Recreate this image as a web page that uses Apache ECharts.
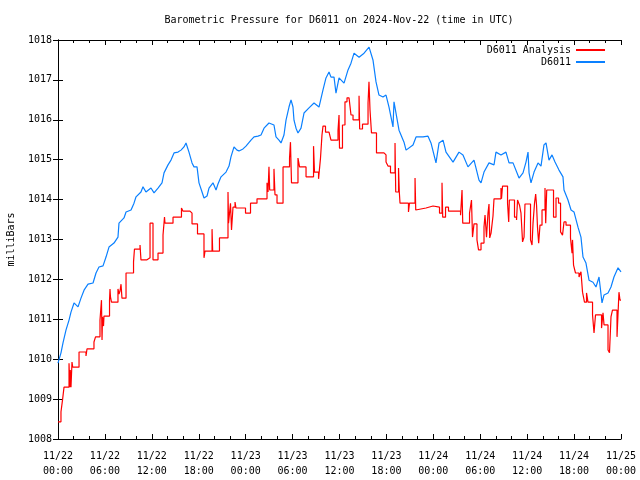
<!DOCTYPE html>
<html>
<head>
<meta charset="utf-8">
<script src="https://cdn.jsdelivr.net/npm/echarts@6/dist/echarts.min.js"></script>
<style>html,body{margin:0;padding:0;background:#fff}#c{width:640px;height:480px}</style>
</head>
<body>
<div id="c"></div>
<script>
var xTickLabels = ['11/22\n00:00','11/22\n06:00','11/22\n12:00','11/22\n18:00','11/23\n00:00','11/23\n06:00','11/23\n12:00','11/23\n18:00','11/24\n00:00','11/24\n06:00','11/24\n12:00','11/24\n18:00','11/25\n00:00'];

// hours since 11/22 00:00 UTC
var blueHours = [0.00,0.38,0.64,1.02,1.41,1.66,2.05,2.56,2.94,3.33,3.84,4.48,4.86,5.24,5.76,6.14,6.52,7.16,7.67,7.80,8.44,8.70,9.34,9.72,9.98,10.61,10.87,11.25,11.89,12.28,12.79,13.30,13.56,14.07,14.45,14.84,15.35,15.73,16.11,16.37,16.75,17.14,17.39,17.78,18.03,18.42,18.67,19.06,19.31,19.82,20.21,20.46,20.85,21.49,21.87,22.12,22.51,22.89,23.15,23.66,24.04,24.68,25.07,25.58,25.96,26.35,26.98,27.62,27.88,28.26,28.52,28.90,29.16,29.54,29.80,30.05,30.18,30.44,30.69,31.08,31.46,32.10,32.74,33.38,33.89,34.27,34.66,34.91,35.30,35.55,35.94,36.58,37.09,37.47,37.86,38.50,39.14,39.78,40.28,40.67,41.05,41.56,41.95,42.33,42.84,42.97,43.61,44.25,44.51,45.40,45.79,46.68,47.32,47.70,48.34,48.73,49.24,49.62,50.52,51.28,51.79,52.43,53.20,53.46,53.84,54.10,54.48,55.12,55.76,56.01,56.65,57.29,57.68,58.19,58.96,59.47,59.85,60.11,60.24,60.49,60.88,61.39,61.77,62.15,62.41,62.79,63.18,63.56,64.07,64.58,64.71,65.22,65.61,65.99,66.50,66.88,67.14,67.52,67.91,68.42,68.80,69.19,69.57,69.83,70.34,70.72,71.10,71.62,72.00];
var blueValues = [1009.90,1010.16,1010.41,1010.73,1010.98,1011.18,1011.41,1011.31,1011.53,1011.73,1011.88,1011.91,1012.16,1012.31,1012.34,1012.56,1012.81,1012.91,1013.06,1013.41,1013.54,1013.69,1013.74,1013.91,1014.07,1014.19,1014.32,1014.19,1014.29,1014.17,1014.29,1014.42,1014.67,1014.87,1014.99,1015.17,1015.19,1015.24,1015.32,1015.42,1015.19,1014.92,1014.82,1014.82,1014.42,1014.19,1014.04,1014.09,1014.29,1014.42,1014.24,1014.39,1014.57,1014.69,1014.84,1015.07,1015.32,1015.24,1015.22,1015.27,1015.34,1015.49,1015.57,1015.59,1015.62,1015.79,1015.92,1015.87,1015.57,1015.49,1015.42,1015.62,1015.99,1016.32,1016.50,1016.32,1015.99,1015.79,1015.67,1015.79,1016.17,1016.30,1016.42,1016.32,1016.75,1017.05,1017.20,1017.07,1017.07,1016.67,1017.05,1016.92,1017.25,1017.42,1017.67,1017.57,1017.67,1017.82,1017.50,1016.95,1016.62,1016.57,1016.62,1016.32,1015.82,1016.45,1015.74,1015.44,1015.24,1015.37,1015.57,1015.57,1015.59,1015.42,1014.92,1015.42,1015.49,1015.19,1014.94,1015.19,1015.12,1014.82,1014.99,1014.79,1014.49,1014.42,1014.69,1014.92,1014.87,1015.19,1015.12,1015.19,1014.92,1014.92,1014.54,1014.67,1014.94,1015.19,1014.67,1014.42,1014.69,1014.92,1014.84,1015.37,1015.42,1014.99,1015.12,1014.94,1014.74,1014.57,1014.24,1013.99,1013.74,1013.69,1013.31,1013.06,1012.56,1012.41,1011.98,1011.93,1011.81,1012.06,1011.41,1011.61,1011.66,1011.81,1012.06,1012.29,1012.19];

// analysis: value holds from each time until the next
var redHours = [0.00,0.38,0.58,0.77,1.41,1.50,1.57,1.66,1.79,1.88,2.69,3.58,3.71,4.60,4.80,5.37,5.56,5.63,5.69,5.82,5.88,6.59,6.65,6.71,6.84,7.67,7.80,7.93,8.06,8.18,8.70,9.66,9.78,10.49,10.61,11.38,11.77,12.15,12.79,13.43,13.62,13.68,14.71,15.79,15.99,16.88,17.14,17.84,18.67,18.80,19.70,19.78,20.65,21.74,21.81,22.06,22.19,22.38,22.64,22.76,23.98,24.62,25.45,26.73,26.86,26.98,27.07,27.62,27.75,28.01,28.78,29.61,29.73,29.86,30.69,30.89,31.72,32.68,32.80,33.32,33.57,33.76,33.89,34.21,34.66,34.91,35.81,35.94,36.00,36.38,36.70,36.96,37.22,37.47,37.73,38.50,38.58,38.94,39.65,39.77,39.90,40.09,40.73,41.69,41.95,42.20,42.52,43.10,43.19,43.55,43.65,43.74,44.82,44.95,45.66,45.75,45.98,47.06,47.96,48.79,49.11,49.20,49.56,49.94,51.48,51.67,51.76,52.63,52.88,53.01,53.20,53.58,53.78,54.10,54.48,54.61,54.80,54.99,55.12,55.21,55.38,55.63,55.76,56.65,56.72,56.85,57.49,57.64,57.72,58.38,58.64,58.77,59.02,59.21,59.41,59.60,59.72,60.43,60.62,60.75,60.94,61.09,61.20,61.32,61.47,61.64,61.90,62.28,62.37,62.50,63.37,63.69,64.01,64.27,64.52,64.71,64.97,65.54,65.74,65.80,65.93,66.18,66.63,66.88,67.08,67.33,67.59,67.78,68.36,68.55,68.74,69.51,69.70,69.83,70.34,70.53,70.72,70.91,71.49,71.74,71.87,72.00];
var redValues = [1008.43,1008.68,1008.98,1009.30,1009.90,1009.30,1009.73,1009.30,1009.93,1009.80,1010.18,1010.08,1010.26,1010.43,1010.56,1010.98,1011.48,1010.48,1011.06,1010.83,1011.08,1011.48,1011.76,1011.56,1011.43,1011.76,1011.63,1011.71,1011.88,1011.53,1012.16,1012.44,1012.76,1012.86,1012.49,1012.54,1013.41,1012.49,1012.66,1013.11,1013.56,1013.41,1013.56,1013.79,1013.71,1013.66,1013.39,1013.14,1012.54,1012.71,1013.26,1012.71,1013.04,1014.19,1013.41,1013.91,1013.24,1013.81,1013.94,1013.79,1013.66,1013.91,1014.02,1014.42,1014.19,1014.82,1014.24,1014.77,1014.12,1013.91,1014.82,1015.04,1015.44,1014.42,1015.04,1014.82,1014.57,1015.34,1014.69,1014.52,1015.04,1015.62,1015.84,1015.69,1015.74,1015.49,1015.74,1016.12,1015.29,1015.87,1016.45,1016.55,1016.50,1016.12,1016.00,1016.60,1015.77,1015.89,1016.42,1016.95,1016.25,1015.67,1015.17,1015.12,1014.94,1014.84,1014.67,1015.42,1014.19,1014.79,1014.19,1013.91,1013.69,1013.91,1014.54,1013.74,1013.79,1013.84,1013.81,1013.66,1014.42,1013.56,1013.81,1013.71,1013.61,1014.24,1013.41,1013.66,1013.99,1013.06,1013.39,1012.99,1012.74,1012.91,1013.31,1013.61,1013.06,1013.66,1013.89,1013.04,1013.16,1013.59,1014.02,1014.29,1014.02,1014.34,1013.91,1013.44,1013.99,1013.56,1013.49,1013.99,1013.86,1013.66,1012.94,1013.06,1013.89,1012.99,1012.86,1013.41,1013.91,1014.14,1013.86,1013.31,1012.91,1013.36,1013.74,1014.29,1013.41,1014.24,1013.56,1014.04,1013.91,1013.19,1013.11,1013.44,1013.36,1013.04,1012.66,1012.99,1012.36,1012.16,1012.06,1012.19,1011.68,1011.43,1011.66,1011.43,1011.11,1010.66,1011.11,1010.78,1011.16,1010.86,1010.23,1010.16,1011.06,1011.23,1010.56,1011.68,1011.48,1011.48];

function zip(a, b) { var r = []; for (var i = 0; i < a.length; i++) r.push([a[i], b[i]]); return r; }

var FONT = 'DejaVu Sans Mono';
var chart = echarts.init(document.getElementById('c'), null, {renderer: 'canvas'});
var xBase = {
  type: 'value', min: 0, max: 72, interval: 6,
  axisLine: {show: true, lineStyle: {color: '#000', width: 1}},
  axisTick: {show: true, inside: true, length: 5, lineStyle: {color: '#000'}},
  minorTick: {show: true, splitNumber: 3, length: 3, lineStyle: {color: '#000'}},
  splitLine: {show: false}, minorSplitLine: {show: false}
};
var yBase = {
  type: 'value', min: 1008, max: 1018, interval: 1,
  axisLine: {show: true, lineStyle: {color: '#000', width: 1}},
  axisTick: {show: true, inside: true, length: 5, lineStyle: {color: '#000'}},
  splitLine: {show: false}
};
chart.setOption({
  backgroundColor: '#fff',
  animation: false,
  title: {
    text: 'Barometric Pressure for D6011 on 2024-Nov-22 (time in UTC)',
    left: 334, top: 10, textAlign: 'center',
    textStyle: {fontFamily: FONT, fontSize: 10, fontWeight: 'normal', color: '#000'}
  },
  legend: {
    orient: 'vertical', right: 30, top: 40, align: 'right',
    itemWidth: 29, itemHeight: 2, itemGap: 2, icon: 'rect',
    textStyle: {fontFamily: FONT, fontSize: 10, color: '#000'},
    data: ['D6011 Analysis', 'D6011']
  },
  grid: {left: 58, right: 19, top: 40, bottom: 41, containLabel: false, outerBoundsMode: 'none'},
  xAxis: [
    Object.assign({}, xBase, {
      position: 'bottom',
      axisLabel: {
        fontFamily: FONT, fontSize: 10, color: '#000', lineHeight: 15, margin: 10,
        formatter: function (v) { return xTickLabels[Math.round(v / 6)]; }
      }
    }),
    Object.assign({}, xBase, {position: 'top', axisLabel: {show: false}})
  ],
  yAxis: [
    Object.assign({}, yBase, {
      position: 'left',
      name: 'milliBars', nameLocation: 'middle', nameGap: 42,
      nameTextStyle: {fontFamily: FONT, fontSize: 10, color: '#000'},
      axisLabel: {fontFamily: FONT, fontSize: 10, color: '#000', margin: 6,
        formatter: function (v) { return String(v); }}
    }),
    Object.assign({}, yBase, {position: 'right', axisLabel: {show: false}})
  ],
  series: [
    {
      name: 'D6011 Analysis', type: 'line', step: 'end', showSymbol: false, symbol: 'none',
      data: zip(redHours, redValues),
      lineStyle: {color: '#ff0000', width: 1.2}, itemStyle: {color: '#ff0000'}
    },
    {
      name: 'D6011', type: 'line', showSymbol: false, symbol: 'none',
      data: zip(blueHours, blueValues),
      lineStyle: {color: '#0a80ff', width: 1.2}, itemStyle: {color: '#0a80ff'}
    }
  ]
});
</script>
</body>
</html>
